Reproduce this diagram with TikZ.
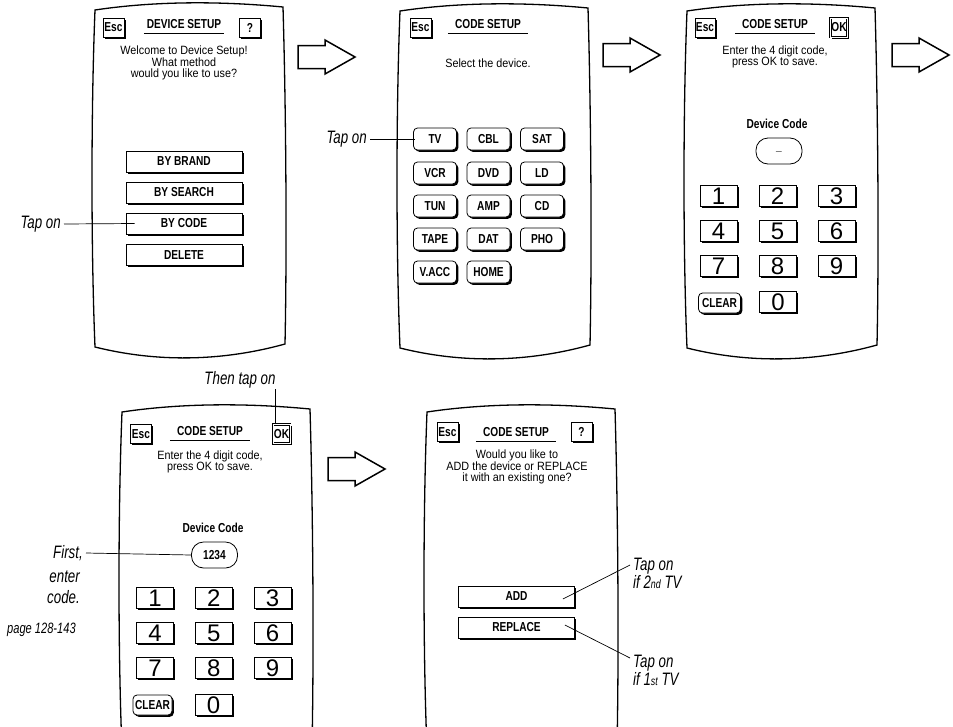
\documentclass[tikz,border=0pt]{standalone}
\usepackage{fontspec}
\setmainfont{Liberation Sans}[FakeStretch=0.9]
\newfontfamily\digitfont{Liberation Sans}
\newfontfamily\narrowfont{Liberation Sans}[FakeStretch=0.78]
\newfontfamily\notefont{Liberation Sans}[FakeStretch=0.74]
\usetikzlibrary{shadows}

\tikzset{
  screen/.style={line width=1.3pt},
  flow/.style={line width=1.5pt, fill=white},
  pointer/.style={line width=.7pt},
  rule/.style={line width=1.4pt},
  boxkey/.style={draw, fill=white, line width=.8pt, inner sep=0pt,
    drop shadow={shadow xshift=1.8pt, shadow yshift=-1.8pt, opacity=1, fill=black},
    font=\narrowfont\bfseries\fontsize{13}{13}\selectfont},
  menubtn/.style={boxkey, minimum width=116pt, minimum height=21pt},
  devkey/.style={boxkey, rounded corners=4pt, minimum width=43pt, minimum height=22pt},
  numkey/.style={boxkey, minimum width=37pt, minimum height=21pt, font=\digitfont\fontsize{24}{24}\selectfont},
  clearkey/.style={boxkey, rounded corners=4pt, minimum width=42pt, minimum height=20pt},
  topkey/.style={boxkey, minimum width=21pt, minimum height=19pt},
  okkey/.style={topkey, minimum width=17pt, double=white, double distance=1pt, line width=.6pt},
  heading/.style={font=\narrowfont\bfseries\fontsize{13}{13}\selectfont, inner sep=0pt,
    minimum width=80pt, minimum height=18pt},
  codeoval/.style={draw, line width=.8pt, rounded corners=12pt, minimum width=46pt,
    minimum height=26pt, inner sep=0pt, font=\narrowfont\bfseries\fontsize{13}{13}\selectfont},
  boldtext/.style={font=\narrowfont\bfseries\fontsize{13}{13}\selectfont, inner sep=0pt},
  screentext/.style={font=\fontsize{12}{11.5}\selectfont, align=center, inner sep=0pt},
  note/.style={font=\notefont\itshape\fontsize{18}{18}\selectfont, inner sep=0pt}
}

\begin{document}
\begin{tikzpicture}[x=1pt,y=-1pt]
\useasboundingbox (0,0) rectangle (953,726);
\clip (0,0) rectangle (953,726);

% remote screens
\foreach \px/\py in {95/10, 400/11, 687/11, 122/412, 427/412}
  \draw[screen, shift={(\px,\py)}] (0,0) .. controls (60,-9) and (125,-9) .. (188,-3)
    .. controls (191,100) and (192,240) .. (190,334)
    .. controls (125,352) and (60,352) .. (0,337)
    .. controls (-4,240) and (-4,100) .. cycle;

% arrows between the steps
\foreach \x/\y in {298/57, 603/55, 892/55, 328/469}
  \draw[flow] (\x,\y-11.5) -- ++(27,0) -- ++(0,-5.5) -- ++(30,17) -- ++(-30,17)
    -- ++(0,-5.5) -- ++(-27,0) -- cycle;

% step 1: device setup
\node[topkey] (esc1) at (113.5,27.5) {Esc};
\node[heading] (title1) at (184,24) {DEVICE SETUP};
\draw[rule] (title1.south west) -- (title1.south east);
\node[topkey] (help1) at (250,27.5) {?};
\node[screentext] (welcome) at (184,63) {Welcome to Device Setup!\\What method\\would you like to use?};
\foreach \nm/\lbl/\cy in {brand/BY BRAND/161.5, search/BY SEARCH/192.5, bycode/BY CODE/223.5, delete/DELETE/255}
  \node[menubtn] (\nm) at (184,\cy) {\lbl};
\node[note, anchor=east] (tapcode) at (61,224) {Tap on};
\draw[pointer] ([xshift=3pt]tapcode.east) -- ([xshift=9pt]bycode.west);

% step 2: select the device
\node[topkey] (esc2) at (420.5,27.5) {Esc};
\node[heading] (title2) at (488,24) {CODE SETUP};
\draw[rule] (title2.south west) -- (title2.south east);
\node[screentext] (select) at (488,63) {Select the device.};
\foreach \nm/\lbl/\cx/\cy in {tv/TV/435/139, cbl/CBL/488.5/139, sat/SAT/542/139,
    vcr/VCR/435/173, dvd/DVD/488.5/173, ld/LD/542/173,
    tun/TUN/435/206, amp/AMP/488.5/206, cd/CD/542/206,
    tape/TAPE/435/239, dat/DAT/488.5/239, pho/PHO/542/239,
    vacc/V.ACC/435/272, home/HOME/488.5/272}
  \node[devkey] (\nm) at (\cx,\cy) {\lbl};
\node[note, anchor=east] (taptv) at (367,139) {Tap on};
\draw[pointer] ([xshift=3pt]taptv.east) -- ([xshift=2pt]tv.west);

% step 3: empty code
\node[topkey, minimum width=20pt] (esc3) at (705,27.5) {Esc};
\node[heading] (title3) at (775,24) {CODE SETUP};
\draw[rule] (title3.south west) -- (title3.south east);
\node[okkey] (ok3) at (839,27.5) {OK};
\node[screentext] (enter3) at (775,57) {Enter the 4 digit code,\\press OK to save.};
\node[boldtext] (devcode3) at (777,124) {Device Code};
\node[codeoval] (code3) at (779,151) {\_};
\foreach \r in {0,1,2}
  \foreach \c in {0,1,2} {
    \pgfmathtruncatemacro\d{3*\r+\c+1}
    \node[numkey] (a\d) at (718.5+59*\c,196+35*\r) {\d};
  }
\node[numkey] (a0) at (778,302) {0};
\node[clearkey] (clear3) at (719.5,303) {CLEAR};

% step 4: code entered
\node[topkey] (esc4) at (141,434) {Esc};
\node[heading] (title4) at (210,431) {CODE SETUP};
\draw[rule] (title4.south west) -- (title4.south east);
\node[okkey] (ok4) at (281.5,434) {OK};
\node[note] (thentap) at (240,380) {Then tap on};
\draw[pointer] (ok4.north -| 275,0) -- (thentap.south -| 275,0);
\node[screentext] (enter4) at (210,462) {Enter the 4 digit code,\\press OK to save.};
\node[boldtext] (devcode4) at (213,528) {Device Code};
\node[codeoval] (code4) at (214.5,555) {1234};
\node[note, anchor=east] (first) at (83,553) {First,};
\node[note, anchor=east, align=right, font=\notefont\itshape\fontsize{18}{21}\selectfont] (entercode) at (80,587.5) {enter\\code.};
\draw[pointer] ([xshift=3pt]first.east) -- (code4.west);
\node[note, anchor=west, font=\notefont\itshape\fontsize{15}{15}\selectfont] (page) at (7,630) {page 128-143};
\foreach \r in {0,1,2}
  \foreach \c in {0,1,2} {
    \pgfmathtruncatemacro\d{3*\r+\c+1}
    \node[numkey] (b\d) at (155+58.75*\c,598+35*\r) {\d};
  }
\node[numkey] (b0) at (213.5,705) {0};
\node[clearkey, minimum width=39pt] (clear4) at (152.5,705) {CLEAR};

% step 5: add or replace
\node[topkey] (esc5) at (447.5,432) {Esc};
\node[heading] (title5) at (516,432) {CODE SETUP};
\draw[rule] (title5.south west) -- (title5.south east);
\node[topkey] (help5) at (581.5,432) {?};
\node[screentext] (addask) at (517,467) {Would you like to\\ADD the device or REPLACE\\it with an existing one?};
\node[menubtn] (add) at (516.5,596.5) {ADD};
\node[menubtn] (replace) at (516.5,627.5) {REPLACE};
\node[note, anchor=north west, align=left, font=\notefont\itshape\fontsize{18}{15.5}\selectfont] (tapadd) at (633,558)
  {Tap on\\if 2{\fontsize{12}{12}\selectfont nd} TV};
\node[note, anchor=north west, align=left, font=\notefont\itshape\fontsize{18}{15.5}\selectfont] (tapreplace) at (633,655)
  {Tap on\\if 1{\fontsize{12}{12}\selectfont st} TV};
\draw[pointer] ([xshift=-12pt,yshift=-2.5pt]add.east) -- ([xshift=-3pt,yshift=-7pt]tapadd.north west);
\draw[pointer] ([xshift=-10pt,yshift=2.5pt]replace.east) -- ([xshift=-3pt,yshift=-3pt]tapreplace.north west);
\end{tikzpicture}
\end{document}
